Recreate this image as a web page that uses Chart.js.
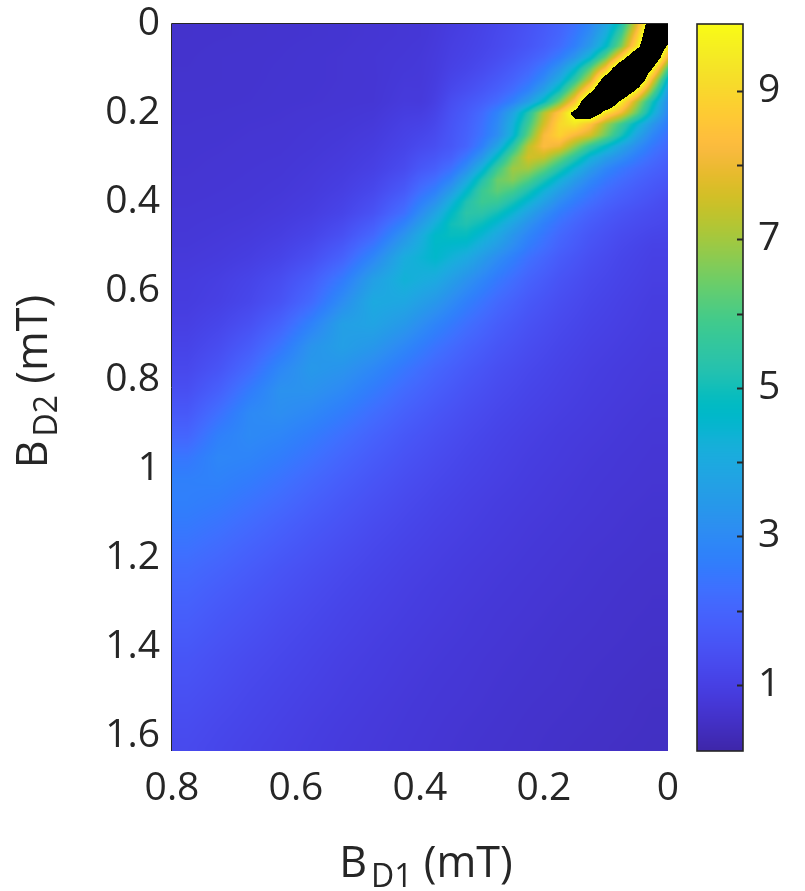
<!DOCTYPE html>
<html>
<head>
<meta charset="utf-8">
<script src="https://cdn.jsdelivr.net/npm/chart.js@4.4.1/dist/chart.umd.min.js"></script>
<style>
html,body{margin:0;padding:0;background:#ffffff;}
#wrap{width:805px;height:891px;}
</style>
</head>
<body>
<div id="wrap"><canvas id="c" width="805" height="891"></canvas></div>
<script>
// ---------------- data ----------------
// coarse grid: cell centres along B_D1 (mT)
const BD1 = [0.025,0.075,0.125,0.175,0.225,0.275,0.325,0.375,0.425,0.475,0.525,0.575,0.625,0.675,0.725,0.775];
// coarse grid: cell centres along B_D2 (mT)
const BD2 = [0.025,0.075,0.125,0.175,0.225,0.275,0.325,0.375,0.425,0.475,0.525,0.575,0.625,0.675,0.725,0.775,
             0.825,0.875,0.925,0.975,1.025,1.075,1.125,1.175,1.225,1.275,1.325,1.375,1.425,1.475,1.525,1.575,1.625];
// coarse grid values, one row per BD2 entry, one column per BD1 entry
const SIGNAL = [
 [14.0,5.5,2.3,1.45,1.1,0.92,0.83,0.77,0.73,0.7,0.67,0.65,0.64,0.62,0.61,0.6],
 [12.9,9.5,4.3,2.2,1.43,1.09,0.92,0.82,0.76,0.72,0.69,0.67,0.65,0.64,0.63,0.61],
 [7.0,12.9,6.7,2.9,1.63,1.14,0.93,0.81,0.8,0.71,0.69,0.67,0.66,0.64,0.63,0.62],
 [4.5,9.5,13.0,5.0,2.1,1.29,0.97,0.83,0.85,0.72,0.7,0.68,0.67,0.65,0.64,0.64],
 [2.7,4.8,8.0,8.3,4.4,2.3,1.49,1.1,1.0,0.81,0.75,0.72,0.69,0.68,0.66,0.65],
 [1.95,3.0,5.2,7.9,7.2,4.0,2.2,1.42,1.12,0.91,0.81,0.75,0.71,0.7,0.68,0.67],
 [1.55,2.2,3.4,5.3,7.1,5.9,3.4,1.95,1.32,1.02,0.88,0.8,0.74,0.72,0.7,0.68],
 [1.32,1.71,2.4,3.6,5.3,6.3,4.8,2.8,1.72,1.22,0.98,0.85,0.78,0.74,0.72,0.7],
 [1.18,1.45,1.91,2.67,3.8,5.1,5.4,3.8,2.3,1.51,1.13,0.94,0.84,0.78,0.75,0.73],
 [1.09,1.29,1.61,2.12,2.9,4.0,4.9,4.7,3.3,2.1,1.45,1.12,0.95,0.85,0.8,0.76],
 [1.02,1.17,1.41,1.77,2.32,3.1,4.0,4.6,4.1,2.9,1.93,1.4,1.11,0.95,0.86,0.81],
 [0.97,1.1,1.27,1.54,1.95,2.53,3.25,4.0,4.3,3.66,2.58,1.82,1.36,1.11,0.96,0.88],
 [0.92,1.03,1.17,1.38,1.68,2.12,2.7,3.4,3.9,4.0,3.1,2.15,1.54,1.2,1.01,0.91],
 [0.89,0.98,1.09,1.26,1.49,1.82,2.28,2.83,3.43,3.8,3.66,2.78,1.97,1.45,1.16,0.99],
 [0.85,0.93,1.02,1.16,1.35,1.6,1.95,2.39,2.92,3.4,3.64,3.3,2.44,1.77,1.34,1.1],
 [0.82,0.88,0.96,1.08,1.23,1.42,1.7,2.04,2.47,2.94,3.3,3.44,2.93,2.14,1.56,1.23],
 [0.79,0.85,0.92,1.02,1.14,1.3,1.52,1.81,2.15,2.57,2.98,3.24,3.23,2.6,1.89,1.42],
 [0.76,0.81,0.88,0.96,1.06,1.19,1.37,1.6,1.88,2.23,2.61,2.93,3.12,2.97,2.3,1.69],
 [0.73,0.78,0.84,0.9,0.99,1.1,1.25,1.44,1.66,1.95,2.28,2.6,2.87,2.99,2.7,2.02],
 [0.71,0.75,0.8,0.87,0.94,1.04,1.16,1.32,1.51,1.75,2.03,2.34,2.62,2.83,2.9,2.47],
 [0.69,0.73,0.77,0.83,0.9,0.99,1.09,1.22,1.38,1.58,1.82,2.09,2.37,2.61,2.77,2.72],
 [0.67,0.7,0.75,0.8,0.86,0.93,1.02,1.13,1.27,1.44,1.64,1.88,2.15,2.38,2.59,2.7],
 [0.64,0.68,0.72,0.77,0.82,0.89,0.97,1.06,1.18,1.32,1.5,1.69,1.92,2.16,2.38,2.54],
 [0.62,0.66,0.69,0.74,0.79,0.85,0.92,1.0,1.1,1.22,1.37,1.54,1.74,1.95,2.17,2.35],
 [0.6,0.63,0.67,0.71,0.76,0.81,0.87,0.95,1.03,1.14,1.26,1.41,1.57,1.77,1.97,2.15],
 [0.58,0.61,0.65,0.69,0.73,0.78,0.84,0.9,0.98,1.07,1.18,1.31,1.46,1.62,1.8,1.99],
 [0.57,0.59,0.63,0.66,0.71,0.75,0.8,0.87,0.94,1.02,1.11,1.23,1.35,1.51,1.66,1.85],
 [0.55,0.58,0.61,0.64,0.68,0.73,0.78,0.83,0.9,0.97,1.06,1.16,1.27,1.41,1.55,1.72],
 [0.53,0.56,0.59,0.62,0.66,0.7,0.75,0.8,0.86,0.93,1.0,1.1,1.2,1.31,1.44,1.59],
 [0.51,0.54,0.57,0.61,0.64,0.68,0.73,0.77,0.83,0.9,0.96,1.05,1.14,1.24,1.37,1.5],
 [0.49,0.52,0.56,0.59,0.62,0.66,0.71,0.75,0.8,0.86,0.93,1.0,1.09,1.18,1.29,1.41],
 [0.48,0.51,0.54,0.57,0.6,0.64,0.68,0.73,0.78,0.83,0.89,0.96,1.04,1.13,1.22,1.33],
 [0.47,0.49,0.52,0.55,0.59,0.62,0.66,0.71,0.76,0.81,0.86,0.93,1.0,1.08,1.17,1.27]
];
// fine grid near the peak: nodes along B_D1 and B_D2 (mT)
const FINE_BD1 = [0,0.025,0.05,0.075,0.1,0.125,0.15,0.175,0.2,0.225,0.25,0.275,0.3,0.325,0.35,0.375,0.4];
const FINE_BD2 = [0,0.025,0.05,0.075,0.1,0.125,0.15,0.175,0.2,0.225,0.25,0.275,0.3,0.325,0.35,0.375,0.4,0.425,0.45,0.475,0.5];
// fine grid values (values above the colour-bar maximum are shown black)
const FINE_SIGNAL = [
 [12,11.5,7.8,5.2,3.8,2.9,2.3,1.95,1.7,1.5,1.33,1.2,1.08,0.98,0.9,0.85,0.82],
 [11,12,8.6,5.9,4.2,3.15,2.5,2.02,1.76,1.55,1.38,1.24,1.11,1.01,0.93,0.87,0.83],
 [9.6,12.5,9.3,6.6,4.7,3.5,2.7,2.18,1.84,1.6,1.42,1.27,1.14,1.04,0.96,0.89,0.84],
 [8.0,12,12,8.9,6.3,4.5,3.35,2.6,2.1,1.8,1.55,1.35,1.2,1.08,0.99,0.91,0.86],
 [6.0,9.9,12.5,12,8.4,6.2,4.5,3.3,2.55,2.05,1.75,1.5,1.3,1.15,1.04,0.95,0.88],
 [4.5,8.0,12,13,11,7.5,5.5,4.0,3.0,2.35,1.95,1.68,1.45,1.27,1.12,1.01,0.93],
 [3.6,6.5,9.5,12,12.5,9.5,7.0,5.0,3.7,2.8,2.25,1.88,1.62,1.4,1.22,1.08,0.98],
 [3.1,5.0,7.2,9.5,12,12,8.6,6.5,4.8,3.6,2.75,2.2,1.85,1.6,1.36,1.18,1.03],
 [2.9,4.4,6.3,8.0,9.2,11.5,10.4,8.6,7.2,5.3,3.8,2.8,2.15,1.75,1.47,1.26,1.09],
 [2.6,3.4,4.5,5.8,7.0,8.5,9.4,9.0,7.6,5.8,4.2,3.0,2.3,1.85,1.55,1.32,1.13],
 [2.3,2.9,3.8,5.1,6.4,7.6,8.2,8.9,8.2,6.3,4.4,3.1,2.4,1.92,1.6,1.36,1.16],
 [2.1,2.5,3.1,3.8,4.7,5.6,6.8,8.0,8.3,7.3,5.4,3.8,2.7,2.0,1.65,1.4,1.2],
 [1.9,2.2,2.6,3.1,3.6,4.3,5.4,6.5,7.4,7.6,6.4,4.8,3.4,2.5,1.88,1.55,1.3],
 [1.75,1.95,2.2,2.5,2.9,3.5,4.3,5.3,6.3,7.0,6.95,5.8,4.3,3.1,2.3,1.77,1.43],
 [1.6,1.75,1.95,2.2,2.5,2.95,3.55,4.3,5.2,6.1,6.7,6.4,5.2,3.9,2.85,2.15,1.7],
 [1.45,1.6,1.75,1.95,2.2,2.55,3.0,3.6,4.3,5.15,5.9,6.25,5.75,4.6,3.5,2.6,2.0],
 [1.3,1.45,1.6,1.75,1.95,2.25,2.6,3.05,3.7,4.4,5.1,5.7,5.8,5.2,4.2,3.15,2.4],
 [1.25,1.32,1.42,1.55,1.72,1.95,2.25,2.6,3.1,3.72,4.4,5.0,5.4,5.4,4.7,3.8,2.9],
 [1.18,1.24,1.32,1.42,1.57,1.75,2.0,2.3,2.7,3.2,3.8,4.4,4.9,5.2,5.0,4.3,3.5],
 [1.12,1.18,1.25,1.33,1.45,1.6,1.8,2.05,2.4,2.8,3.25,3.84,4.4,4.8,4.95,4.6,3.95],
 [1.08,1.13,1.19,1.26,1.36,1.5,1.66,1.86,2.14,2.5,2.9,3.4,3.9,4.35,4.65,4.7,4.3]
];
const X_TICKS = [0, 0.2, 0.4, 0.6, 0.8];
const Y_TICKS = [0, 0.2, 0.4, 0.6, 0.8, 1.0, 1.2, 1.4, 1.6];
const X_RANGE = [0, 0.8];
const Y_RANGE = [0, 1.634];
const CB_RANGE = [0.11, 9.9];
const CB_TICKS = [1, 2, 3, 4, 5, 6, 7, 8, 9];
const CB_LABELLED = [1, 3, 5, 7, 9];
const X_TITLE = ['B', 'D1', ' (mT)'];
const Y_TITLE = ['B', 'D2', ' (mT)'];

// ---------------- colour map (parula, 64 entries) ----------------
const PARULA = [
[0.2422,0.1504,0.6603],[0.2504,0.1650,0.7076],[0.2578,0.1818,0.7511],[0.2647,0.1978,0.7952],
[0.2706,0.2147,0.8364],[0.2751,0.2342,0.8710],[0.2783,0.2559,0.8991],[0.2803,0.2782,0.9221],
[0.2813,0.3006,0.9414],[0.2810,0.3228,0.9579],[0.2795,0.3447,0.9717],[0.2760,0.3667,0.9829],
[0.2699,0.3892,0.9906],[0.2602,0.4123,0.9952],[0.2440,0.4358,0.9988],[0.2206,0.4603,0.9973],
[0.1963,0.4847,0.9892],[0.1834,0.5074,0.9798],[0.1786,0.5289,0.9682],[0.1764,0.5499,0.9520],
[0.1687,0.5703,0.9359],[0.1540,0.5902,0.9218],[0.1460,0.6091,0.9079],[0.1380,0.6276,0.8973],
[0.1248,0.6459,0.8883],[0.1113,0.6635,0.8763],[0.0952,0.6798,0.8598],[0.0689,0.6948,0.8394],
[0.0297,0.7082,0.8163],[0.0036,0.7203,0.7917],[0.0067,0.7312,0.7660],[0.0433,0.7411,0.7394],
[0.0964,0.7500,0.7120],[0.1408,0.7584,0.6842],[0.1717,0.7670,0.6554],[0.1938,0.7758,0.6251],
[0.2161,0.7843,0.5923],[0.2470,0.7918,0.5567],[0.2906,0.7973,0.5188],[0.3406,0.8008,0.4789],
[0.3909,0.8029,0.4354],[0.4456,0.8024,0.3909],[0.5044,0.7993,0.3480],[0.5616,0.7942,0.3045],
[0.6174,0.7876,0.2612],[0.6720,0.7793,0.2227],[0.7242,0.7698,0.1910],[0.7738,0.7598,0.1646],
[0.8203,0.7498,0.1535],[0.8634,0.7406,0.1596],[0.9035,0.7330,0.1774],[0.9393,0.7288,0.2100],
[0.9728,0.7298,0.2394],[0.9956,0.7434,0.2371],[0.9970,0.7659,0.2199],[0.9952,0.7893,0.2028],
[0.9892,0.8136,0.1885],[0.9786,0.8386,0.1766],[0.9676,0.8639,0.1643],[0.9610,0.8890,0.1537],
[0.9597,0.9135,0.1423],[0.9628,0.9373,0.1265],[0.9691,0.9606,0.1064],[0.9769,0.9839,0.0805]
];
const TEXT_COLOUR = '#262626';
const FONT = '"Open Sans", "Noto Sans", "DejaVu Sans", sans-serif';
const TICK_SIZE = 39;
const TITLE_SIZE = 43;
const SUB_SIZE = 32;

function colourOf(v) {
  if (v > CB_RANGE[1]) return [0, 0, 0];
  let t = (v - CB_RANGE[0]) / (CB_RANGE[1] - CB_RANGE[0]);
  t = Math.max(0, Math.min(1, t)) * (PARULA.length - 1);
  const i = Math.min(PARULA.length - 2, Math.floor(t));
  const f = t - i;
  const a = PARULA[i], b = PARULA[i + 1];
  return [0, 1, 2].map(k => Math.round(255 * (a[k] + (b[k] - a[k]) * f)));
}

// interpolated shading between grid nodes (uniformly spaced nodes)
function sampleGrid(xs, ys, grid, xv, yv) {
  const nx = xs.length, ny = ys.length;
  let fx = (xv - xs[0]) / (xs[1] - xs[0]);
  let fy = (yv - ys[0]) / (ys[1] - ys[0]);
  fx = Math.max(0, Math.min(nx - 1, fx));
  fy = Math.max(0, Math.min(ny - 1, fy));
  const i0 = Math.min(nx - 2, Math.floor(fx)), j0 = Math.min(ny - 2, Math.floor(fy));
  const tx = fx - i0, ty = fy - j0;
  const r0 = grid[j0], r1 = grid[j0 + 1];
  const top = r0[i0] * (1 - tx) + r0[i0 + 1] * tx;
  const bot = r1[i0] * (1 - tx) + r1[i0 + 1] * tx;
  return top * (1 - ty) + bot * ty;
}
function sampleAt(xv, yv) {
  const coarse = sampleGrid(BD1, BD2, SIGNAL, xv, yv);
  const xe = FINE_BD1[FINE_BD1.length - 1], ye = FINE_BD2[FINE_BD2.length - 1];
  if (xv > xe || yv > ye) return coarse;
  const blend = 2 * (FINE_BD1[1] - FINE_BD1[0]);
  const wx = Math.max(0, Math.min(1, (xe - xv) / blend));
  const wy = Math.max(0, Math.min(1, (ye - yv) / blend));
  const w = wx * wy;
  return w * sampleGrid(FINE_BD1, FINE_BD2, FINE_SIGNAL, xv, yv) + (1 - w) * coarse;
}

const cellPoints = [];
BD2.forEach((yv, j) => BD1.forEach((xv, i) => cellPoints.push({ x: xv, y: yv, v: SIGNAL[j][i] })));
FINE_BD2.forEach((yv, j) => FINE_BD1.forEach((xv, i) => cellPoints.push({ x: xv, y: yv, v: FINE_SIGNAL[j][i] })));

const heatmapPlugin = {
  id: 'heatmap',
  beforeDatasetsDraw(chart) {
    const { ctx, chartArea: a, scales } = chart;
    const xs = scales.x, ys = scales.y;
    const w = Math.round(a.right - a.left), h = Math.round(a.bottom - a.top);
    const img = ctx.createImageData(w, h);
    const xv = [];
    for (let i = 0; i < w; i++) xv.push(xs.getValueForPixel(a.left + i + 0.5));
    for (let j = 0; j < h; j++) {
      const yv = ys.getValueForPixel(a.top + j + 0.5);
      for (let i = 0; i < w; i++) {
        const c = colourOf(sampleAt(xv[i], yv));
        const p = (j * w + i) * 4;
        img.data[p] = c[0]; img.data[p + 1] = c[1]; img.data[p + 2] = c[2]; img.data[p + 3] = 255;
      }
    }
    ctx.putImageData(img, Math.round(a.left), Math.round(a.top));
  },
  afterDraw(chart) {
    const { ctx, chartArea: a, scales } = chart;
    ctx.save();
    // axes box lines (left and top)
    ctx.strokeStyle = TEXT_COLOUR;
    ctx.lineWidth = 1;
    ctx.beginPath();
    ctx.moveTo(a.left - 0.5, a.bottom);
    ctx.lineTo(a.left - 0.5, a.top - 0.5);
    ctx.lineTo(a.right, a.top - 0.5);
    ctx.stroke();

    // colour bar drawn through its own scale
    const cb = scales.cb;
    const bx = cb.left + 29, bw = 46;
    const yTop = Math.round(cb.getPixelForValue(CB_RANGE[1]));
    const yBot = Math.round(cb.getPixelForValue(CB_RANGE[0]));
    for (let py = yTop; py < yBot; py++) {
      const c = colourOf(Math.min(CB_RANGE[1], cb.getValueForPixel(py + 0.5)));
      ctx.fillStyle = `rgb(${c[0]},${c[1]},${c[2]})`;
      ctx.fillRect(bx, py, bw, 1);
    }
    ctx.lineWidth = 2;
    ctx.strokeStyle = TEXT_COLOUR;
    CB_TICKS.forEach(v => {
      const py = Math.round(cb.getPixelForValue(v)) + 0.5;
      ctx.beginPath();
      ctx.moveTo(bx + bw, py);
      ctx.lineTo(bx + bw - 6, py);
      ctx.stroke();
    });
    ctx.lineWidth = 1.6;
    ctx.strokeRect(bx, yTop, bw, yBot - yTop);

    // axis titles with subscripts
    ctx.fillStyle = TEXT_COLOUR;
    ctx.textBaseline = 'alphabetic';
    ctx.textAlign = 'left';
    const drawTitle = (parts, cx, baseY) => {
      ctx.font = `${TITLE_SIZE}px ${FONT}`;
      const w0 = ctx.measureText(parts[0]).width;
      const w2 = ctx.measureText(parts[2]).width;
      ctx.font = `${SUB_SIZE}px ${FONT}`;
      const w1 = ctx.measureText(parts[1]).width;
      const gap = 4;
      const x0 = cx - (w0 + gap + w1 + w2) / 2;
      ctx.font = `${TITLE_SIZE}px ${FONT}`;
      ctx.fillText(parts[0], x0, baseY);
      ctx.font = `${SUB_SIZE}px ${FONT}`;
      ctx.fillText(parts[1], x0 + w0 + gap, baseY + 10);
      ctx.font = `${TITLE_SIZE}px ${FONT}`;
      ctx.fillText(parts[2], x0 + w0 + gap + w1, baseY);
    };
    drawTitle(X_TITLE, (a.left + a.right) / 2 + 6, 877);
    ctx.save();
    ctx.translate(47, (a.top + a.bottom) / 2);
    ctx.rotate(-Math.PI / 2);
    drawTitle(Y_TITLE, 6, 0);
    ctx.restore();
    ctx.restore();
  }
};

const fmt = v => String(Number(Number(v).toFixed(1)));
const noPad = s => { s.paddingTop = 0; s.paddingBottom = 0; s.paddingLeft = 0; s.paddingRight = 0; };

function build() {
  new Chart(document.getElementById('c'), {
    type: 'scatter',
    data: { datasets: [{ data: cellPoints, pointRadius: 0, pointHoverRadius: 0, showLine: false }] },
    options: {
      responsive: false,
      animation: false,
      events: [],
      layout: { padding: { top: 24, left: 0, right: 0, bottom: 0 } },
      plugins: { legend: { display: false }, tooltip: { enabled: false } },
      scales: {
        x: {
          type: 'linear', min: X_RANGE[0], max: X_RANGE[1], reverse: true,
          grid: { display: false, drawTicks: false }, border: { display: false },
          ticks: { color: TEXT_COLOUR, font: { family: FONT, size: TICK_SIZE }, padding: 14, maxRotation: 0, autoSkip: false, callback: v => fmt(v) },
          afterBuildTicks: s => { s.ticks = X_TICKS.map(v => ({ value: v })); },
          afterFit: s => { s.height = 140; noPad(s); }
        },
        y: {
          type: 'linear', min: Y_RANGE[0], max: Y_RANGE[1], reverse: true,
          grid: { display: false, drawTicks: false }, border: { display: false },
          ticks: { color: TEXT_COLOUR, font: { family: FONT, size: TICK_SIZE }, padding: 12, autoSkip: false, callback: v => fmt(v) },
          afterBuildTicks: s => { s.ticks = Y_TICKS.map(v => ({ value: v })); },
          afterFit: s => { s.width = 172; noPad(s); }
        },
        cb: {
          type: 'linear', position: 'right', min: CB_RANGE[0], max: CB_RANGE[1],
          grid: { display: false, drawTicks: false }, border: { display: false },
          ticks: { color: TEXT_COLOUR, font: { family: FONT, size: TICK_SIZE }, padding: 90, autoSkip: false,
                   callback: v => (CB_LABELLED.includes(v) ? String(v) : '') },
          afterBuildTicks: s => { s.ticks = CB_TICKS.map(v => ({ value: v })); },
          afterFit: s => { s.width = 137; noPad(s); }
        }
      }
    },
    plugins: [heatmapPlugin]
  });
}

if (document.fonts && document.fonts.load) {
  document.fonts.load(`${TICK_SIZE}px "Open Sans"`).then(build, build);
} else {
  build();
}
</script>
</body>
</html>
